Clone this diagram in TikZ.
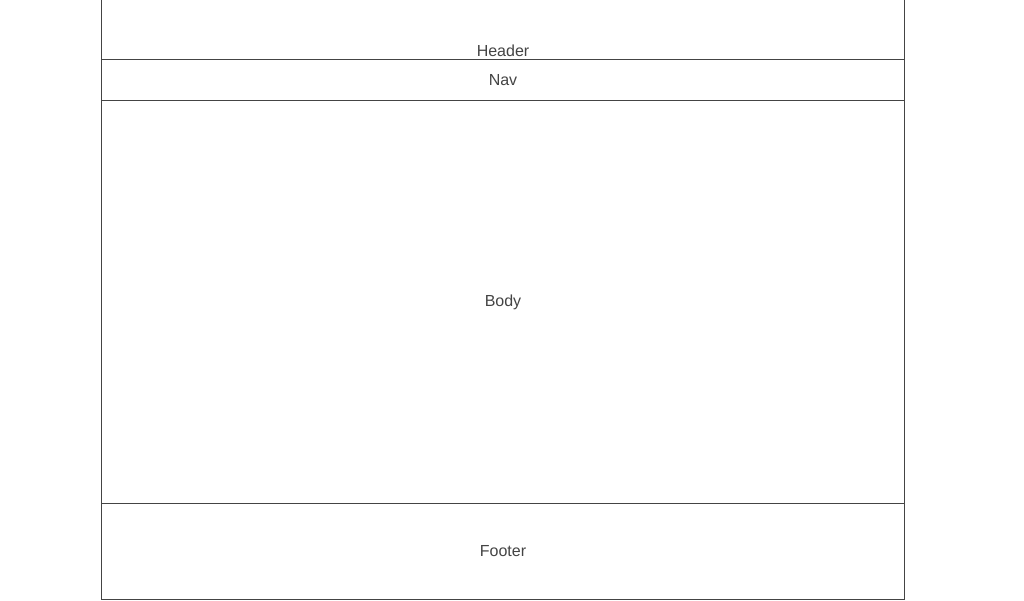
\documentclass[tikz,border=0pt]{standalone}
\usepackage{fontspec}
\setmainfont{Liberation Sans}
\usetikzlibrary{positioning}
\definecolor{lineaGris}{HTML}{444444}

\begin{document}
\begin{tikzpicture}[x=1pt, y=-1pt, font=\fontsize{16}{19}\selectfont,
        panel/.style={draw=lineaGris, line width=1pt, minimum width=803pt, inner sep=0pt,
            outer sep=0pt, text=lineaGris},
        borde/.style={lineaGris, line width=1pt}]
        \useasboundingbox (0,0) rectangle (1024,600);
        \node[panel, minimum height=41pt] (nav) at (503,80) {Nav};
        \node[panel, minimum height=403pt, below=0pt of nav] (body) {Body};
        \node[panel, minimum height=96pt, below=0pt of body] (footer) {Footer};
        \node[text=lineaGris] (header) at (503,50.5) {Header};
        \draw[borde] (nav.north west) -- (nav.north west |- 0,0);
        \draw[borde] (nav.north east) -- (nav.north east |- 0,0);
    \end{tikzpicture}
\end{document}
